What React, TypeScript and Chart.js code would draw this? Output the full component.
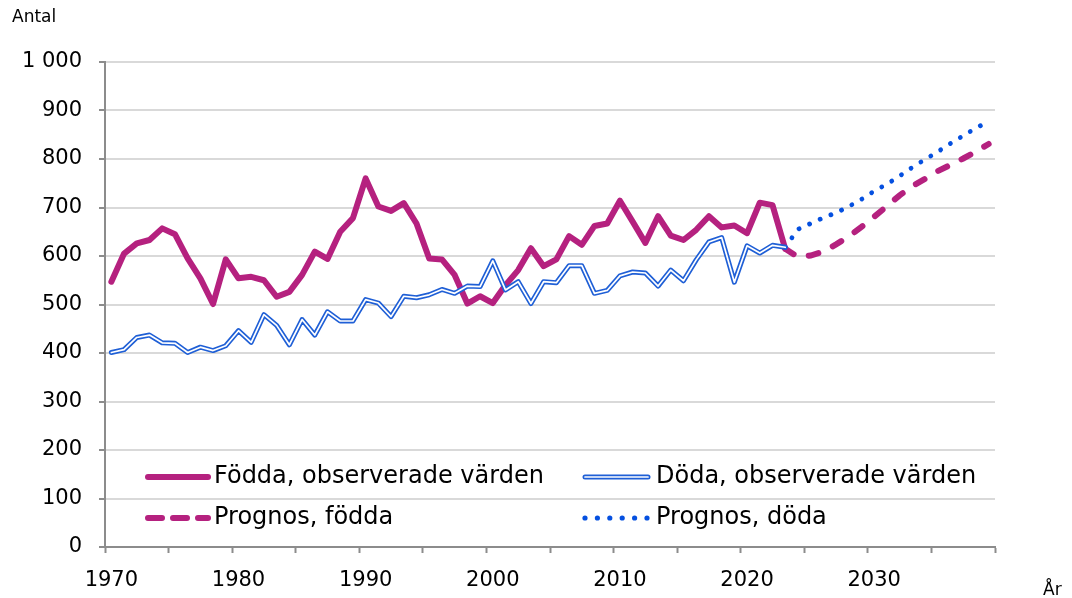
import React, { useEffect, useRef } from 'react';
import { Chart, registerables } from 'chart.js';

Chart.register(...registerables);

const years: string[] = [
  '1970','1971','1972','1973','1974','1975','1976','1977','1978','1979',
  '1980','1981','1982','1983','1984','1985','1986','1987','1988','1989',
  '1990','1991','1992','1993','1994','1995','1996','1997','1998','1999',
  '2000','2001','2002','2003','2004','2005','2006','2007','2008','2009',
  '2010','2011','2012','2013','2014','2015','2016','2017','2018','2019',
  '2020','2021','2022','2023','2024','2025','2026','2027','2028','2029',
  '2030','2031','2032','2033','2034','2035','2036','2037','2038','2039',
];

const tickLabels: string[] = ['1970', '1980', '1990', '2000', '2010', '2020', '2030'];
const yTickLabels: Record<number, string> = { 1000: '1 000' };

// Observed values 1970–2023
const fodda: number[] = [
  547, 605, 626, 633, 657, 645, 595, 554, 501, 593,
  554, 557, 550, 516, 526, 561, 609, 594, 650, 678,
  760, 702, 693, 709, 667, 595, 593, 561, 502, 517,
  503, 540, 571, 616, 579, 593, 641, 623, 662, 667,
  714, 671, 627, 682, 642, 633, 654, 682, 659, 663,
  647, 710, 705, 615,
];

const doda: number[] = [
  401, 407, 432, 437, 421, 420, 401, 412, 405, 415,
  446, 422, 479, 457, 417, 469, 437, 485, 466, 466,
  510, 503, 475, 517, 514, 520, 531, 523, 538, 537,
  590, 530, 547, 502, 547, 545, 580, 580, 523, 529,
  559, 567, 565, 538, 571, 549, 592, 629, 638, 546,
  621, 606, 622, 618,
];

// Forecast values 2023–2039
const prognosStart = '2023';
const prognosFodda: number[] = [615, 598, 601, 609, 624, 640, 660, 681, 703, 725, 744, 759, 775, 788, 801, 815, 831];
const prognosDoda: number[] = [618, 655, 667, 679, 689, 702, 717, 734, 748, 765, 783, 799, 815, 832, 848, 864, 877];

const MAGENTA = '#b5217f';
const BLUE = '#1f5fd6';
const DOT_BLUE = '#0550e0';
const AXIS = '#8c8c8c';
const GRID = '#d9d9d9';
const FONT = '"DejaVu Sans", "Liberation Sans", Arial, sans-serif';

function padObserved(values: number[]): (number | null)[] {
  return years.map((_, i) => (i < values.length ? values[i] : null));
}

function padForecast(values: number[]): (number | null)[] {
  const startIdx = years.indexOf(prognosStart);
  return years.map((_, i) => (i >= startIdx && i - startIdx < values.length ? values[i - startIdx] : null));
}

const decorPlugin = {
  id: 'decor',
  afterDatasetsDraw(chart: any) {
    const ctx: CanvasRenderingContext2D = chart.ctx;
    ctx.save();
    // Axis titles
    ctx.fillStyle = '#000';
    ctx.textBaseline = 'middle';
    ctx.textAlign = 'left';
    ctx.font = `17px ${FONT}`;
    ctx.fillText('Antal', 12, 18);
    ctx.fillText('År', 1043, 591);

    // Legend
    const row1 = 477;
    const row2 = 518;
    ctx.lineCap = 'round';
    ctx.lineJoin = 'round';

    // Födda observed
    ctx.strokeStyle = MAGENTA;
    ctx.lineWidth = 6;
    ctx.setLineDash([]);
    ctx.beginPath();
    ctx.moveTo(148, row1);
    ctx.lineTo(208, row1);
    ctx.stroke();

    // Prognos födda (dashed)
    ctx.setLineDash([14, 11]);
    ctx.beginPath();
    ctx.moveTo(148, row2);
    ctx.lineTo(208, row2);
    ctx.stroke();
    ctx.setLineDash([]);

    // Döda observed (double line)
    ctx.strokeStyle = BLUE;
    ctx.lineWidth = 5;
    ctx.beginPath();
    ctx.moveTo(585, row1);
    ctx.lineTo(648, row1);
    ctx.stroke();
    ctx.strokeStyle = '#ffffff';
    ctx.lineWidth = 1.7;
    ctx.beginPath();
    ctx.moveTo(585, row1);
    ctx.lineTo(648, row1);
    ctx.stroke();

    // Prognos döda (dotted)
    ctx.fillStyle = DOT_BLUE;
    for (let k = 0; k < 6; k++) {
      ctx.beginPath();
      ctx.arc(585 + k * 12.4, row2, 2.6, 0, Math.PI * 2);
      ctx.fill();
    }

    ctx.fillStyle = '#000';
    ctx.font = `24px ${FONT}`;
    ctx.textAlign = 'left';
    ctx.textBaseline = 'middle';
    ctx.fillText('Födda, observerade värden', 214, row1);
    ctx.fillText('Prognos, födda', 214, row2);
    ctx.fillText('Döda, observerade värden', 656, row1);
    ctx.fillText('Prognos, döda', 656, row2);
    ctx.restore();
  },
};

export default function App() {
  const canvasRef = useRef<HTMLCanvasElement | null>(null);

  useEffect(() => {
    if (!canvasRef.current) return;
    const chart = new Chart(canvasRef.current, {
      type: 'line',
      data: {
        labels: years,
        datasets: [
          {
            label: 'Döda inner',
            data: padObserved(doda),
            borderColor: '#ffffff',
            borderWidth: 1.7,
            pointRadius: 0,
            tension: 0,
            borderJoinStyle: 'round',
            borderCapStyle: 'round',
            order: 0,
          },
          {
            label: 'Döda, observerade värden',
            data: padObserved(doda),
            borderColor: BLUE,
            borderWidth: 5,
            pointRadius: 0,
            tension: 0,
            borderJoinStyle: 'round',
            borderCapStyle: 'round',
            order: 1,
          },
          {
            label: 'Prognos, döda',
            data: padForecast(prognosDoda),
            borderColor: DOT_BLUE,
            borderWidth: 4.8,
            borderDash: [0.01, 11.6],
            borderCapStyle: 'round',
            pointRadius: 0,
            tension: 0,
            order: 2,
          },
          {
            label: 'Födda, observerade värden',
            data: padObserved(fodda),
            borderColor: MAGENTA,
            borderWidth: 6,
            pointRadius: 0,
            tension: 0,
            borderJoinStyle: 'round',
            borderCapStyle: 'round',
            order: 3,
          },
          {
            label: 'Prognos, födda',
            data: padForecast(prognosFodda),
            borderColor: MAGENTA,
            borderWidth: 6,
            borderDash: [10, 16],
            borderCapStyle: 'round',
            pointRadius: 0,
            tension: 0,
            order: 4,
          },
        ],
      },
      options: {
        responsive: false,
        animation: false,
        layout: { padding: { top: 62, right: 77, left: 0, bottom: 0 } },
        plugins: {
          legend: { display: false },
          tooltip: { enabled: false },
          title: { display: false },
        },
        scales: {
          x: {
            type: 'category',
            offset: true,
            grid: {
              offset: true,
              drawOnChartArea: false,
              drawTicks: true,
              tickLength: 6,
              tickWidth: 2,
              tickColor: (c: any) => (c.type !== 'tick' || c.index % 5 === 0 ? AXIS : 'rgba(0,0,0,0)'),
              color: 'rgba(0,0,0,0)',
            },
            border: { display: true, color: AXIS, width: 2 },
            ticks: {
              autoSkip: false,
              maxRotation: 0,
              minRotation: 0,
              padding: 15,
              color: '#000',
              font: { family: FONT, size: 21 },
              callback: (_v: any, index: number) => (tickLabels.includes(years[index]) ? years[index] : ''),
            },
            afterFit: (scale: any) => {
              scale.height = 51;
            },
          },
          y: {
            min: 0,
            max: 1000,
            ticks: {
              stepSize: 100,
              padding: 17,
              color: '#000',
              font: { family: FONT, size: 21 },
              callback: (v: any) => yTickLabels[v as number] ?? String(v),
            },
            grid: {
              color: GRID,
              lineWidth: 2,
              tickColor: AXIS,
              tickLength: 6,
              tickWidth: 2,
            },
            border: { display: true, color: AXIS, width: 2 },
            afterFit: (scale: any) => {
              scale.width = 105;
            },
          },
        },
      },
      plugins: [decorPlugin],
    });
    return () => chart.destroy();
  }, []);

  return (
    <div style={{ position: 'fixed', left: 0, top: 0, width: 1072, height: 598, background: '#fff' }}>
      <canvas ref={canvasRef} width={1072} height={598} style={{ width: 1072, height: 598, display: 'block' }} />
    </div>
  );
}
